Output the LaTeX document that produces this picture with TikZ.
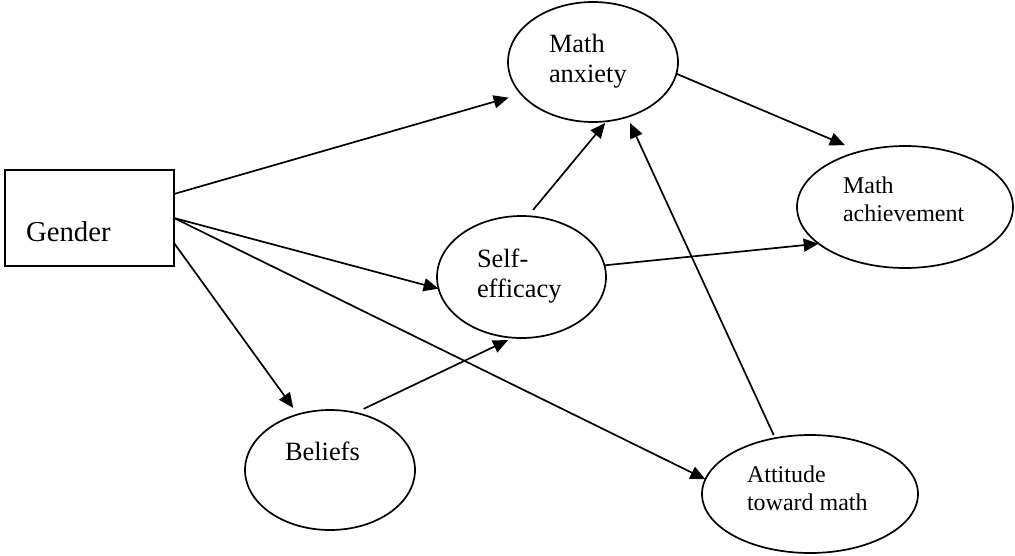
\documentclass[tikz,border=0pt]{standalone}
\usepackage{fontspec}
\setmainfont{Liberation Serif}
\usetikzlibrary{shapes.geometric,arrows.meta}
\begin{document}
\begin{tikzpicture}[x=1pt,y=-1pt,line width=1.7pt,
  box/.style={draw, rectangle, minimum width=169pt, minimum height=96pt, inner sep=0pt, outer sep=0pt},
  oval/.style={draw, ellipse, inner sep=0pt, outer sep=0pt},
  lbl/.style={inner sep=0pt, outer sep=0pt, align=left, anchor=base west},
  big/.style={font=\fontsize{28.8}{33}\selectfont},
  mid/.style={font=\fontsize{26.4}{29.5}\selectfont},
  small/.style={font=\fontsize{24}{28}\selectfont},
  link/.style={-{Triangle[length=15pt,width=13pt]}},
]
\useasboundingbox (0,0) rectangle (1015,555);

% variables of the path model
\node[box] (gender) at (89.5,218) {};
\node[oval, minimum width=170pt, minimum height=120pt] (anx) at (593,62) {};
\node[oval, minimum width=216pt, minimum height=122pt] (ach) at (905,207) {};
\node[oval, minimum width=169pt, minimum height=122pt] (self) at (521.5,277) {};
\node[oval, minimum width=170pt, minimum height=120pt] (bel) at (330,470) {};
\node[oval, minimum width=216pt, minimum height=118pt] (att) at (810,494) {};

% their labels (base anchor sits on the last line)
\node[lbl,big] (gendertext) at (26,241) {Gender};
\node[lbl,mid] (anxtext) at (549,82) {Math\\anxiety};
\node[lbl,small] (achtext) at (843,221) {Math\\achievement};
\node[lbl,mid] (selftext) at (477,297) {Self-\\efficacy};
\node[lbl,mid] (beltext) at (285,460) {Beliefs};
\node[lbl,small] (atttext) at (747,510) {Attitude\\toward math};

% paths
\draw[link, shorten >=13pt] ([yshift=24pt]gender.east) -- (anx.204);
\draw[link] (gender.east) -- (self.188);
\draw[link] (gender.east) -- (att.172);
\draw[link, shorten >=8pt] ([yshift=-25pt]gender.east) -- (bel.120);
\draw[link, shorten <=9pt, shorten >=5.5pt] (bel.66) -- (self.262);
\draw[link, shorten <=8pt, shorten >=2.3pt] (self.84) -- (anx.283);
\draw[link, shorten <=3.4pt, shorten >=6.7pt] (att.122) -- (anx.302);
\draw[link, shorten >=16.5pt] (anx.352) -- (ach.129);
\draw[link] (self.8) -- (ach.203);
\end{tikzpicture}
\end{document}
